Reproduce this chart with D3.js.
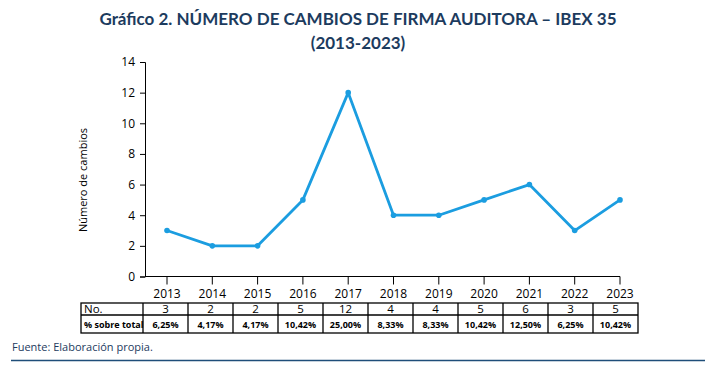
<!DOCTYPE html>
<html lang="es">
<head>
  <meta charset="UTF-8">
  <title>Gráfico 2. Número de cambios de firma auditora</title>
  <script src="https://d3js.org/d3.v7.min.js"></script>
  <style>
    body { margin: 0; background: #fff; }
    svg { display: block; font-family: "Open Sans", "Noto Sans", sans-serif; }
  </style>
</head>
<body>
  <svg width="722" height="370"></svg>

  <script>
    // data
    const years = ["2013", "2014", "2015", "2016", "2017", "2018", "2019", "2020", "2021", "2022", "2023"];
    const changes = [3, 2, 2, 5, 12, 4, 4, 5, 6, 3, 5];
    const shares = ["6,25%", "4,17%", "4,17%", "10,42%", "25,00%", "8,33%", "8,33%", "10,42%", "12,50%", "6,25%", "10,42%"];
    const yTicks = [0, 2, 4, 6, 8, 10, 12, 14];

    const svg = d3.select("svg");
    const blue = "#1b9de0";
    const navy = "#1c3b5e";

    // title
    const title = svg.append("text")
      .attr("text-anchor", "middle")
      .attr("fill", navy)
      .style("font-family", "Lato, 'Open Sans', sans-serif")
      .style("font-weight", "bold")
      .style("font-size", "17px");
    title.append("tspan").attr("x", 358).attr("y", 25)
      .text("Gráfico 2. NÚMERO DE CAMBIOS DE FIRMA AUDITORA – IBEX 35");
    title.append("tspan").attr("x", 358).attr("y", 49).text("(2013-2023)");

    // scales
    const x = d3.scalePoint().domain(years).range([167, 620]);
    const y = d3.scaleLinear().domain([0, 14]).range([276.5, 62]);

    // y axis
    const yAxis = svg.append("g")
      .attr("transform", "translate(145,0)")
      .call(d3.axisLeft(y).tickValues(yTicks).tickSize(5).tickPadding(5));
    yAxis.select(".domain").attr("stroke", "#000");
    yAxis.selectAll("text").style("font-size", "12px").attr("fill", "#000")
      .style("font-family", "'Open Sans', sans-serif");

    // x axis: line with downward ticks
    const xAxis = svg.append("g").attr("transform", `translate(0,${y(0)})`);
    xAxis.append("line")
      .attr("x1", 145).attr("x2", x(years[years.length - 1]))
      .attr("stroke", "#000");
    xAxis.selectAll(".tick").data(years).join("line")
      .attr("x1", d => x(d)).attr("x2", d => x(d))
      .attr("y1", 0).attr("y2", 8)
      .attr("stroke", "#000");
    xAxis.selectAll(".lbl").data(years).join("text")
      .attr("x", d => x(d)).attr("y", 21)
      .attr("text-anchor", "middle")
      .style("font-size", "12px")
      .text(d => d);

    // y title
    svg.append("text")
      .attr("transform", "translate(87,180) rotate(-90)")
      .attr("text-anchor", "middle")
      .style("font-size", "11px")
      .text("Número de cambios");

    // line
    const pts = years.map((d, i) => [d, changes[i]]);
    svg.append("path")
      .datum(pts)
      .attr("fill", "none")
      .attr("stroke", blue)
      .attr("stroke-width", 2.8)
      .attr("stroke-linejoin", "round")
      .attr("d", d3.line().x(d => x(d[0])).y(d => y(d[1])));
    svg.selectAll(".pt").data(pts).join("circle")
      .attr("cx", d => x(d[0])).attr("cy", d => y(d[1]))
      .attr("r", 2.8).attr("fill", blue);

    // table
    const col = d3.scaleBand().domain(years).range([143, 638]);
    const rowY = [303, 315, 333];
    const table = svg.append("g");
    table.append("rect")
      .attr("x", 81).attr("y", rowY[0])
      .attr("width", 638 - 81).attr("height", rowY[2] - rowY[0])
      .attr("fill", "none").attr("stroke", "#000").attr("stroke-width", 1.3);
    table.append("line")
      .attr("x1", 81).attr("x2", 638).attr("y1", rowY[1]).attr("y2", rowY[1])
      .attr("stroke", "#000").attr("stroke-width", 1.3);
    table.selectAll(".vl").data(years).join("line")
      .attr("x1", d => col(d)).attr("x2", d => col(d))
      .attr("y1", rowY[0]).attr("y2", rowY[2])
      .attr("stroke", "#000").attr("stroke-width", 1.3);

    table.append("text").attr("x", 84).attr("y", rowY[1] - 2)
      .style("font-size", "11.5px").text("No.");
    table.append("text").attr("x", 84).attr("y", rowY[2] - 5)
      .style("font-size", "9px").style("font-weight", "bold").text("% sobre total");

    table.selectAll(".n").data(changes).join("text")
      .attr("x", (d, i) => col(years[i]) + col.bandwidth() / 2)
      .attr("y", rowY[1] - 2)
      .attr("text-anchor", "middle")
      .style("font-size", "11.5px")
      .text(d => d);
    table.selectAll(".s").data(shares).join("text")
      .attr("x", (d, i) => col(years[i]) + col.bandwidth() / 2)
      .attr("y", rowY[2] - 5)
      .attr("text-anchor", "middle")
      .style("font-size", "9px")
      .style("font-weight", "bold")
      .text(d => d);

    // source + rule
    svg.append("text").attr("x", 12).attr("y", 351)
      .attr("fill", navy)
      .style("font-size", "11px")
      .text("Fuente: Elaboración propia.");
    svg.append("line")
      .attr("x1", 11).attr("x2", 705).attr("y1", 360.5).attr("y2", 360.5)
      .attr("stroke", "#1f4e79").attr("stroke-width", 1.5);
  </script>
</body>
</html>
